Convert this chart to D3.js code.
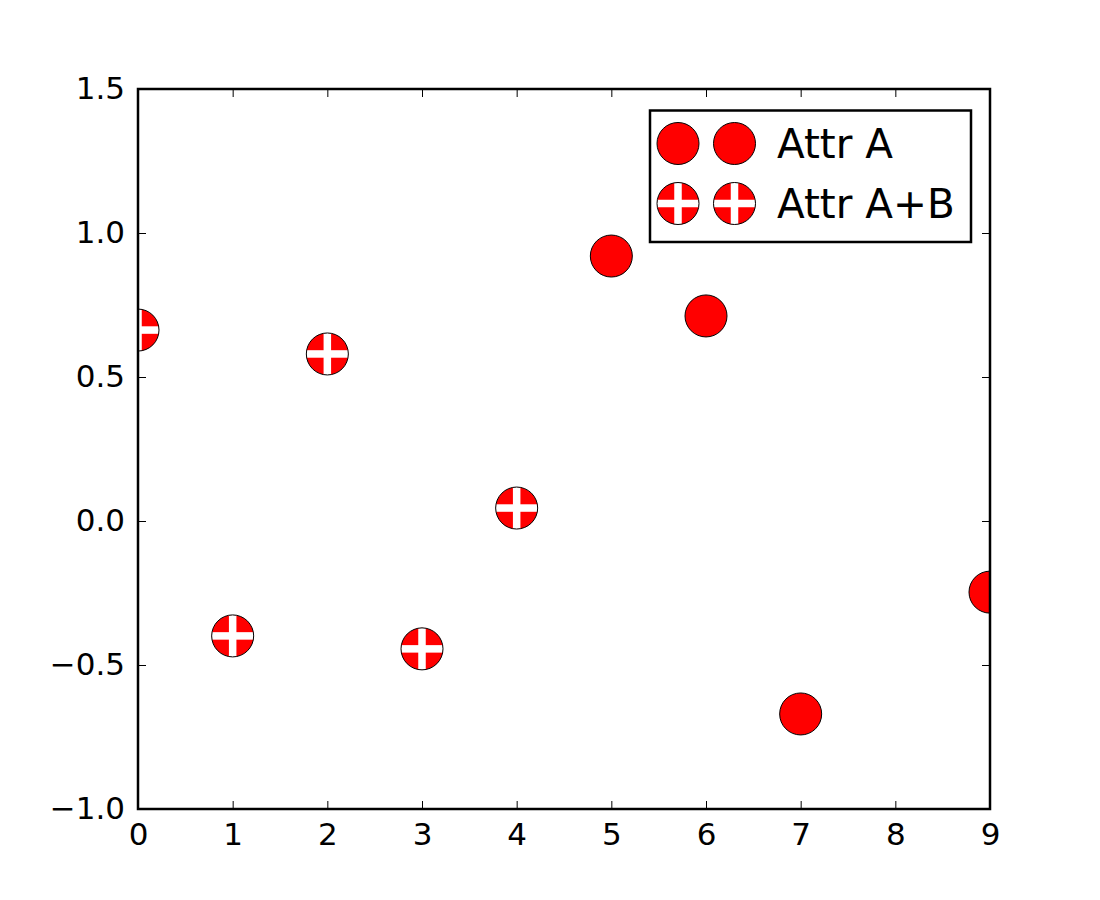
<!DOCTYPE html>
<html><head><meta charset="utf-8">
<script src="https://cdn.jsdelivr.net/npm/d3@7"></script>
<style>body{margin:0;background:#fff}svg{display:block}text{font-family:"DejaVu Sans",sans-serif}</style>
</head><body>
<script>
const xs = [0, 1, 2, 3, 4, 5, 6, 7, 9];
const ys = [0.663, -0.399, 0.580, -0.444, 0.045, 0.920, 0.712, -0.670, -0.247];
const hatched = [true, true, true, true, true, false, false, false, false];
const xTicks = [0,1,2,3,4,5,6,7,8,9];
const yTicks = [-1.0,-0.5,0.0,0.5,1.0,1.5];
const legendLabels = ["Attr A", "Attr A+B"];
const legendHatch = [false, true];

const W=1100,H=900;
const L=138,R=990,T=89,B=809;
const svg=d3.select("body").append("svg").attr("width",W).attr("height",H);
const x=d3.scaleLinear().domain([0,9]).range([L,R]);
const y=d3.scaleLinear().domain([-1,1.5]).range([B,T]);
const defs=svg.append("defs");
defs.append("clipPath").attr("id","plotclip").append("rect").attr("x",L).attr("y",T).attr("width",R-L).attr("height",B-T);

const rad=21, bar=7.5;
let cid=0;
function marker(g,cx,cy,hatch){
  g.append("circle").attr("cx",cx).attr("cy",cy).attr("r",rad).attr("fill","#ff0000");
  if(hatch){
    const id="mc"+(cid++);
    defs.append("clipPath").attr("id",id).append("circle").attr("cx",cx).attr("cy",cy).attr("r",rad);
    const h=g.append("g").attr("clip-path",`url(#${id})`);
    h.append("rect").attr("x",cx-bar/2).attr("y",cy-rad-1).attr("width",bar).attr("height",2*rad+2).attr("fill","#fff");
    h.append("rect").attr("x",cx-rad-1).attr("y",cy-bar/2).attr("width",2*rad+2).attr("height",bar).attr("fill","#fff");
  }
  g.append("circle").attr("cx",cx).attr("cy",cy).attr("r",rad).attr("fill","none").attr("stroke","#000").attr("stroke-width",1);
}

const pts=svg.append("g").attr("clip-path","url(#plotclip)");
xs.forEach((v,i)=>marker(pts,x(v),y(ys[i]),hatched[i]));

// axes
const tl=8;
const ax=svg.append("g");
const fmt=d3.format(".1f");
const xb=d3.axisBottom(x).tickValues(xTicks).tickSize(-tl).tickPadding(14).tickFormat(d3.format("d"));
const xt=d3.axisTop(x).tickValues(xTicks).tickSize(-tl).tickFormat("");
const yl=d3.axisLeft(y).tickValues(yTicks).tickSize(-tl).tickPadding(13).tickFormat(d=>fmt(d).replace("-","\u2212"));
const yr=d3.axisRight(y).tickValues(yTicks).tickSize(-tl).tickFormat("");
[[xb,`translate(0,${B})`],[xt,`translate(0,${T})`],[yl,`translate(${L},0)`],[yr,`translate(${R},0)`]].forEach(([a,t])=>{
  const g=ax.append("g").attr("transform",t).call(a);
  g.select(".domain").remove();
  g.selectAll(".tick line").attr("stroke","#000").attr("stroke-width",1);
  g.selectAll("text").attr("font-size",31).attr("fill","#000").attr("font-family","DejaVu Sans");
});
svg.append("rect").attr("x",L).attr("y",T).attr("width",R-L).attr("height",B-T).attr("fill","none").attr("stroke","#000").attr("stroke-width",2.5);

// legend
const lg=svg.append("g");
lg.append("rect").attr("x",650).attr("y",110.5).attr("width",321).attr("height",131.5).attr("fill","#fff").attr("stroke","#000").attr("stroke-width",2.5);
legendLabels.forEach((lab,i)=>{
  const cy=143.5+i*60;
  marker(lg,678,cy,legendHatch[i]);
  marker(lg,734.5,cy,legendHatch[i]);
  lg.append("text").attr("x",777).attr("y",cy+14).attr("font-size",40.5).attr("fill","#000").text(lab);
});
</script>
</body></html>
